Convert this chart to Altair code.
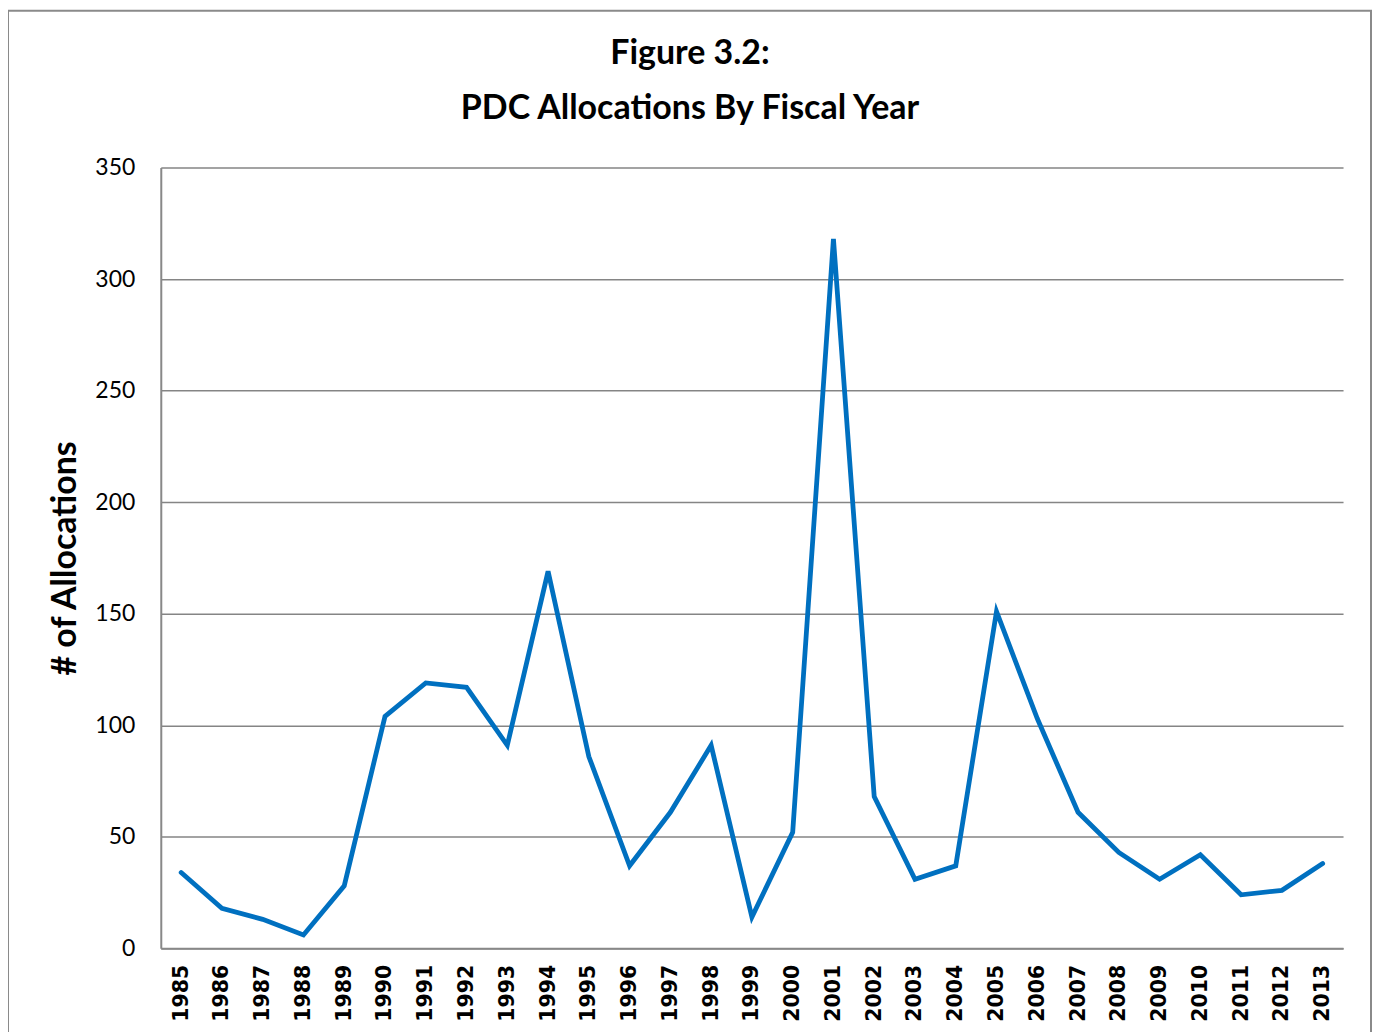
import altair as alt
import pandas as pd

years = [str(y) for y in range(1985, 2014)]
allocations = [34, 18, 13, 6, 28, 104, 119, 117, 91, 169, 86, 37, 61, 91, 14,
               52, 318, 68, 31, 37, 151, 103, 61, 43, 31, 42, 24, 26, 38]

df = pd.DataFrame({"Year": years, "Allocations": allocations})

W, H = 1184, 782

line = alt.Chart(df).mark_line(color="#0070C0", strokeWidth=4.8, strokeCap="round", strokeJoin="miter").encode(
    x=alt.X("Year:O", sort=years,
            scale=alt.Scale(type="point", padding=0.5),
            axis=alt.Axis(title=None, labelAngle=270, labelAlign="right", labelBaseline="middle",
                          labelPadding=16, ticks=False, domainColor="#888888", domainWidth=2,
                          labelFont="DejaVu Sans", labelFontWeight="bold", labelFontSize=20.5,
                          labelColor="#000000", grid=False)),
    y=alt.Y("Allocations:Q", scale=alt.Scale(domain=[0, 350]),
            axis=alt.Axis(values=[0, 50, 100, 150, 200, 250, 300, 350], title="# of Allocations",
                          titleFont="Lato", titleFontSize=34, titleFontWeight="bold", titleColor="#000000",
                          titleX=-95, titleY=H / 2, titleAngle=270, titleAlign="center", titleBaseline="middle",
                          labelFont="Lato", labelFontSize=23, labelColor="#000000", labelPadding=26,
                          ticks=False, domainColor="#888888", domainWidth=2,
                          grid=True, gridColor="#858585", gridWidth=1.5)),
)

border = alt.Chart(pd.DataFrame({"a": [0]})).mark_rect(fill=None, stroke="#8a8a8a", strokeWidth=2).encode(
    x=alt.value(-153), x2=alt.value(1212), y=alt.value(-157), y2=alt.value(900)
)

chart = alt.layer(border, line).properties(
    width=W, height=H,
    autosize=alt.AutoSizeParams(type="none"),
    padding={"left": 153, "top": 159, "right": 29, "bottom": 83},
    title=alt.TitleParams(text="Figure 3.2:", subtitle="PDC Allocations By Fiscal Year",
                          font="Lato", fontSize=34, fontWeight="bold", color="#000000",
                          subtitleFont="Lato", subtitleFontSize=34, subtitleFontWeight="bold",
                          subtitleColor="#000000", subtitlePadding=21,
                          anchor="middle", dx=-62, offset=-116),
).configure_view(stroke=None)

chart.save("out.html", embed_options={"renderer": "svg", "actions": False})
